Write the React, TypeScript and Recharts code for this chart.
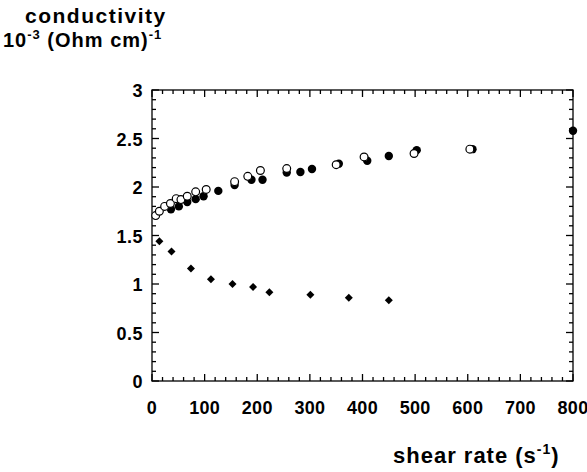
import React from 'react';
import { ScatterChart, Scatter, XAxis, YAxis } from 'recharts';

// solid circles
const filledX = [36, 51, 67, 83, 98, 126, 157, 189, 210, 256, 282, 304, 355, 409, 450, 503, 609, 800];
const filledY = [1.77, 1.80, 1.845, 1.875, 1.905, 1.96, 2.02, 2.075, 2.075, 2.15, 2.155, 2.185, 2.24, 2.27, 2.32, 2.38, 2.39, 2.58];
// open circles
const openX = [7, 14, 24, 35, 46, 55, 67, 83, 103, 157, 182, 206, 256, 350, 403, 498, 604];
const openY = [1.705, 1.75, 1.80, 1.83, 1.88, 1.87, 1.905, 1.95, 1.975, 2.055, 2.11, 2.17, 2.19, 2.23, 2.31, 2.345, 2.39];
// diamonds
const diaX = [14, 37, 74, 112, 153, 192, 223, 301, 374, 450];
const diaY = [1.44, 1.335, 1.16, 1.05, 1.0, 0.97, 0.915, 0.89, 0.858, 0.832];

const xMajorTicks = [0, 100, 200, 300, 400, 500, 600, 700, 800];
const yMajorTicks = [0, 0.5, 1, 1.5, 2, 2.5, 3];
const X_MIN = 0, X_MAX = 800, Y_MIN = 0, Y_MAX = 3;
const xMinorStep = 20;
const yMinorStep = 0.1;

const xTicks: number[] = [];
for (let i = 0; i <= 40; i++) xTicks.push(i * xMinorStep);
const yTicks: number[] = [];
for (let i = 0; i <= 30; i++) yTicks.push(Math.round(i * yMinorStep * 10) / 10);

const isMajorX = (v: number) => xMajorTicks.some((m) => Math.abs(m - v) < 1e-6);
const isMajorY = (v: number) => yMajorTicks.some((m) => Math.abs(m - v) < 1e-6);

const zip = (xs: number[], ys: number[]) => xs.map((x, i) => ({ x, y: ys[i] }));
const filledData = zip(filledX, filledY);
const openData = zip(openX, openY);
const diaData = zip(diaX, diaY);

// tick-mark "series" sitting on the four frame edges
const bottomTickData = xTicks.map((v) => ({ x: v, y: Y_MIN, side: 'b', major: isMajorX(v) }));
const topTickData = xTicks.map((v) => ({ x: v, y: Y_MAX, side: 't', major: isMajorX(v) }));
const leftTickData = yTicks.map((v) => ({ x: X_MIN, y: v, side: 'l', major: isMajorY(v) }));
const rightTickData = yTicks.map((v) => ({ x: X_MAX, y: v, side: 'r', major: isMajorY(v) }));
const frameData = [{ x: X_MIN, y: Y_MIN }];

// layout
const W = 587, H = 472;
const PLOT_LEFT = 152, PLOT_TOP = 90, PLOT_RIGHT = 573, PLOT_BOTTOM = 381;
const PW = PLOT_RIGHT - PLOT_LEFT;
const PH = PLOT_BOTTOM - PLOT_TOP;
const MAJ = 7, MIN = 4;
const TW = 1.3;

const FONT = '"Liberation Sans", Arial, sans-serif';

const BottomLabel = (p: any) => {
  const { x, y, payload } = p;
  const v = payload.value;
  if (!isMajorX(v)) return <g />;
  return (
    <text x={x} y={y + 33} textAnchor="middle" fontFamily={FONT} fontWeight="bold" fontSize={18} letterSpacing={0.3} fill="#000">
      {v}
    </text>
  );
};
const LeftLabel = (p: any) => {
  const { x, y, payload } = p;
  const v = payload.value;
  if (!isMajorY(v)) return <g />;
  return (
    <text x={x - 9} y={y + 7} textAnchor="end" fontFamily={FONT} fontWeight="bold" fontSize={18} letterSpacing={0.5} fill="#000">
      {v}
    </text>
  );
};

const TickMark = (p: any) => {
  const { cx, cy, payload } = p;
  const len = payload && payload.major ? MAJ : MIN;
  const side = payload && payload.side;
  let d = '';
  if (side === 'b') d = `M${cx},${cy}V${cy - len}`;
  else if (side === 't') d = `M${cx},${cy}V${cy + len}`;
  else if (side === 'l') d = `M${cx},${cy}H${cx + len}`;
  else d = `M${cx},${cy}H${cx - len}`;
  return <path d={d} stroke="#000" strokeWidth={TW} fill="none" />;
};
const Frame = (p: any) => {
  const { cx, cy } = p;
  return <rect x={cx} y={cy - PH} width={PW} height={PH} fill="none" stroke="#000" strokeWidth={TW} />;
};

const FilledDot = (p: any) => <circle cx={p.cx} cy={p.cy} r={4.2} fill="#000" />;
const OpenDot = (p: any) => <circle cx={p.cx} cy={p.cy} r={3.9} fill="#fff" stroke="#000" strokeWidth={1.2} />;
const Diamond = (p: any) => {
  const { cx, cy } = p;
  const s = 4;
  return <polygon points={`${cx},${cy - s} ${cx + s},${cy} ${cx},${cy + s} ${cx - s},${cy}`} fill="#000" />;
};

export default function App() {
  return (
    <div style={{ position: 'absolute', left: 0, top: 0, width: W, height: H, background: '#fff' }}>
      <ScatterChart
        width={W}
        height={H}
        margin={{ top: PLOT_TOP, right: W - PLOT_RIGHT, bottom: 0, left: 0 }}
      >
        <XAxis
          dataKey="x"
          type="number"
          domain={[X_MIN, X_MAX]}
          ticks={xTicks}
          interval={0}
          height={H - PLOT_BOTTOM}
          tickSize={0}
          tickMargin={0}
          tickLine={false}
          tick={<BottomLabel />}
          axisLine={false}
        />
        <YAxis
          dataKey="y"
          type="number"
          domain={[Y_MIN, Y_MAX]}
          ticks={yTicks}
          interval={0}
          width={PLOT_LEFT}
          tickSize={0}
          tickMargin={0}
          tickLine={false}
          tick={<LeftLabel />}
          axisLine={false}
        />
        <Scatter data={frameData} shape={<Frame />} isAnimationActive={false} />
        <Scatter data={bottomTickData} shape={<TickMark />} isAnimationActive={false} />
        <Scatter data={topTickData} shape={<TickMark />} isAnimationActive={false} />
        <Scatter data={leftTickData} shape={<TickMark />} isAnimationActive={false} />
        <Scatter data={rightTickData} shape={<TickMark />} isAnimationActive={false} />
        <Scatter data={diaData} shape={<Diamond />} isAnimationActive={false} />
        <Scatter data={filledData} shape={<FilledDot />} isAnimationActive={false} />
        <Scatter data={openData} shape={<OpenDot />} isAnimationActive={false} />
      </ScatterChart>
      <svg width={W} height={H} style={{ position: 'absolute', left: 0, top: 0, pointerEvents: 'none' }}>
        <g fontFamily={FONT} fontWeight="bold" fill="#000">
          <text x={25} y={23} fontSize={21} letterSpacing={1.5}>conductivity</text>
          <text x={3} y={47} fontSize={20} letterSpacing={1}>
            10<tspan dy={-8} fontSize={13}>-3</tspan>
            <tspan dy={8}> (Ohm cm)</tspan>
            <tspan dy={-8} fontSize={13}>-1</tspan>
          </text>
          <text x={393} y={463} fontSize={22} letterSpacing={1}>
            shear rate (s<tspan dy={-9} fontSize={14}>-1</tspan>
            <tspan dy={9}>)</tspan>
          </text>
        </g>
      </svg>
    </div>
  );
}
